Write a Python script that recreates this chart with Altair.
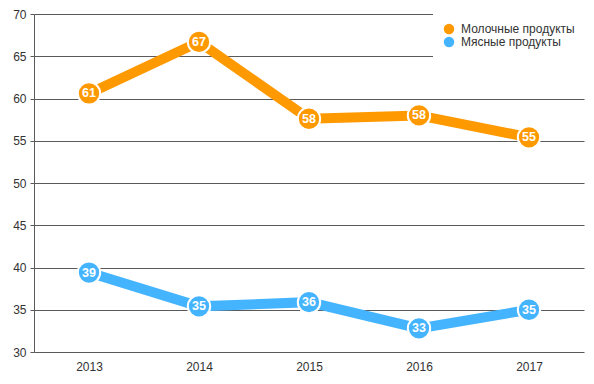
import altair as alt
import pandas as pd

years = ["2013", "2014", "2015", "2016", "2017"]
milk = [60.6, 66.7, 57.6, 58.0, 55.4]
meat = [39.4, 35.4, 35.9, 32.8, 35.0]
series = ["Молочные продукты", "Мясные продукты"]
colors = ["#FF9900", "#45B4FF"]

rows = []
for name, vals in zip(series, [milk, meat]):
    for y, v in zip(years, vals):
        rows.append({"year": y, "value": v, "series": name})
df = pd.DataFrame(rows)

x = alt.X("year:O", title=None,
          scale=alt.Scale(type="point", padding=0.5),
          axis=alt.Axis(labelAngle=0, ticks=False, domain=False, grid=False,
                        labelPadding=9, labelFontSize=12, labelColor="#333",
                        labelFont="Arial"))
y = alt.Y("value:Q", title=None,
          scale=alt.Scale(domain=[30, 70], nice=False, zero=False),
          axis=alt.Axis(values=[30, 35, 40, 45, 50, 55, 60, 65, 70],
                        grid=True, gridColor="#5a5a5a", gridWidth=1,
                        domain=True, domainColor="#5a5a5a",
                        ticks=True, tickSize=4, tickColor="#5a5a5a",
                        labelPadding=4, labelFontSize=12, labelColor="#333",
                        labelFont="Arial"))
color = alt.Color("series:N", title=None,
                  scale=alt.Scale(domain=series, range=colors),
                  legend=alt.Legend(orient="none", legendX=399, legendY=-1,
                                    fillColor="white", padding=10,
                                    symbolType="circle", symbolSize=110,
                                    symbolStrokeWidth=0, symbolOpacity=1,
                                    labelFontSize=12, labelColor="#333",
                                    labelFont="Arial", labelOffset=6,
                                    rowPadding=1))

base = alt.Chart(df).encode(x=x, y=y)

line = base.mark_line(strokeWidth=10).encode(color=color)
pts = base.mark_point(filled=True, size=500, stroke="white", strokeWidth=2,
                      opacity=1, shape="circle").encode(
    color=alt.Color("series:N", scale=alt.Scale(domain=series, range=colors), legend=None))
txt = base.mark_text(color="white", fontSize=12.5, fontWeight="bold",
                     font="Arial").encode(text=alt.Text("value:Q", format=".0f"))

chart = alt.layer(line, pts, txt).properties(
    width=550, height=338,
    autosize=alt.AutoSizeParams(type="none"),
    padding={"left": 26, "top": 6, "right": 2, "bottom": 24},
).configure_view(stroke=None)

chart.save("out.html", embed_options={"renderer": "svg", "actions": False})
